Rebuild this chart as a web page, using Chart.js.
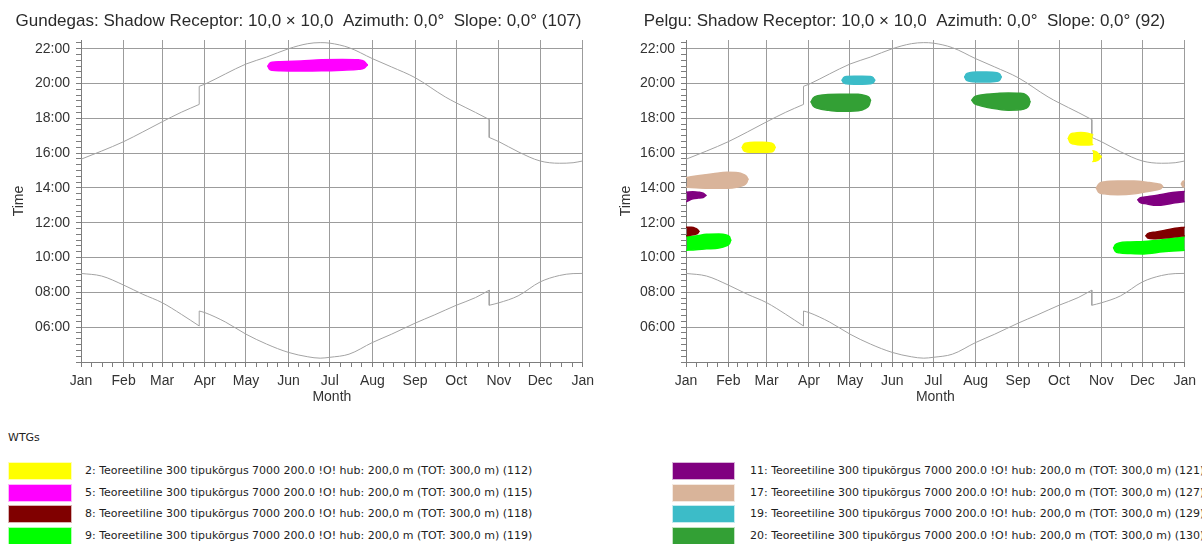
<!DOCTYPE html>
<html>
<head>
<meta charset="utf-8">
<script src="https://cdn.jsdelivr.net/npm/chart.js@4.4.0/dist/chart.umd.min.js"></script>
<style>
  html, body { margin: 0; padding: 0; background: #fff; width: 1202px; height: 544px; overflow: hidden; }
  #wrap { position: relative; width: 1202px; height: 544px; }
  canvas { position: absolute; top: 0; }
  #cL { left: 0; }
  #cR { left: 600px; }
  #legend { position: absolute; left: 0; top: 410px; width: 1202px; height: 134px;
            font-family: "DejaVu Sans", Verdana, sans-serif; font-size: 11px; color: #1e1e1e; }
  #legend .hdr { position: absolute; left: 8px; top: 21px; }
  #legend .sw { position: absolute; height: 18px; box-sizing: border-box; border: 1px solid rgba(255,255,255,0.7); }
  #legend .tx { position: absolute; white-space: pre; line-height: 18px; }
</style>
</head>
<body>
<div id="wrap">
  <canvas id="cL" width="600" height="410"></canvas>
  <canvas id="cR" width="602" height="410"></canvas>
  <div id="legend"><div class="hdr">WTGs</div></div>
</div>
<script>
// ---- axes -------------------------------------------------------------
const monthStarts = [0, 31, 59, 90, 120, 151, 181, 212, 243, 273, 304, 334, 365];
const monthLabels = ['Jan', 'Feb', 'Mar', 'Apr', 'May', 'Jun', 'Jul', 'Aug', 'Sep', 'Oct', 'Nov', 'Dec', 'Jan'];
const timeMin = 4;      // hours
const timeMax = 22.5;   // hours

// ---- sunrise / sunset (day of year, local clock hours) -----------------
const sunsetDay  = [0, 15, 31, 45, 59, 73, 86, 86, 90, 105, 120, 135, 151, 165, 174, 181, 195, 212, 226, 243, 265, 273, 287, 297, 297, 304, 318, 334, 348, 358, 365];
const sunsetTime = [15.65, 16.12, 16.66, 17.22, 17.8, 18.35, 18.8, 19.84, 19.96, 20.55, 21.12, 21.52, 22.0, 22.29, 22.35, 22.32, 22.06, 21.43, 20.95, 20.34, 19.23, 18.89, 18.34, 17.93, 16.9, 16.66, 16.08, 15.55, 15.42, 15.45, 15.55];
const sunriseDay  = [0, 15, 31, 45, 59, 73, 86, 86, 90, 105, 120, 135, 151, 165, 174, 181, 195, 212, 226, 243, 257, 273, 287, 297, 297, 304, 318, 334, 348, 358, 365];
const sunriseTime = [9.09, 8.94, 8.42, 7.89, 7.41, 6.74, 6.07, 6.93, 6.84, 6.3, 5.6, 5.03, 4.55, 4.3, 4.22, 4.27, 4.45, 5.12, 5.6, 6.23, 6.7, 7.26, 7.7, 8.13, 7.26, 7.4, 7.8, 8.6, 8.97, 9.08, 9.09];

// ---- turbines ------------------------------------------------------------
const wtgLabels = [
  '2: Teoreetiline 300 tipukõrgus 7000 200.0 !O! hub: 200,0 m (TOT: 300,0 m) (112)',
  '5: Teoreetiline 300 tipukõrgus 7000 200.0 !O! hub: 200,0 m (TOT: 300,0 m) (115)',
  '8: Teoreetiline 300 tipukõrgus 7000 200.0 !O! hub: 200,0 m (TOT: 300,0 m) (118)',
  '9: Teoreetiline 300 tipukõrgus 7000 200.0 !O! hub: 200,0 m (TOT: 300,0 m) (119)',
  '11: Teoreetiline 300 tipukõrgus 7000 200.0 !O! hub: 200,0 m (TOT: 300,0 m) (121)',
  '17: Teoreetiline 300 tipukõrgus 7000 200.0 !O! hub: 200,0 m (TOT: 300,0 m) (127)',
  '19: Teoreetiline 300 tipukõrgus 7000 200.0 !O! hub: 200,0 m (TOT: 300,0 m) (129)',
  '20: Teoreetiline 300 tipukõrgus 7000 200.0 !O! hub: 200,0 m (TOT: 300,0 m) (130)'
];
const wtgColors = ['#ffff00', '#ff00ff', '#800000', '#00ff00', '#800080', '#d9b49a', '#3cbcc8', '#33a035'];

// ---- shadow periods: outline of each period (day, upper / lower clock hour) ----
const gundegasShadow = [
  { wtg: 1, day: [136, 137, 139, 145, 160, 175, 190, 202, 206, 208.3],
    top:    [21.0, 21.14, 21.22, 21.25, 21.3, 21.36, 21.38, 21.36, 21.28, 21.07],
    bottom: [21.0, 20.84, 20.76, 20.73, 20.72, 20.73, 20.77, 20.82, 20.88, 21.07] }
];

const pelguShadow = [
  // WTG 2
  { wtg: 0, day: [41.2, 42.2, 44.5, 50, 56, 62, 64.2, 65.2],
    top:    [16.33, 16.5, 16.59, 16.62, 16.62, 16.59, 16.5, 16.33],
    bottom: [16.33, 16.15, 16.07, 16.05, 16.05, 16.07, 16.15, 16.33] },
  { wtg: 0, day: [279.8, 281, 284, 289, 294, 297.7],
    top:    [16.85, 17.05, 17.15, 17.19, 17.15, 17.05],
    bottom: [16.85, 16.62, 16.52, 16.47, 16.47, 16.5] },
  { wtg: 0, day: [297.8, 300, 302, 303.8],
    top:    [16.14, 16.08, 15.95, 15.8],
    bottom: [15.52, 15.55, 15.62, 15.8] },
  // WTG 8
  { wtg: 2, day: [0.5, 4, 7, 8.6, 9.4],
    top:    [11.74, 11.74, 11.68, 11.6, 11.5],
    bottom: [11.26, 11.3, 11.34, 11.4, 11.5] },
  { wtg: 2, day: [336.7, 338, 342, 350, 358, 365],
    top:    [11.25, 11.38, 11.45, 11.55, 11.68, 11.74],
    bottom: [11.25, 11.12, 11.08, 11.12, 11.2, 11.26] },
  // WTG 9
  { wtg: 3, day: [0.5, 7, 15, 24, 29.5, 31.8, 32.7],
    top:    [11.2, 11.24, 11.34, 11.36, 11.3, 11.2, 11.0],
    bottom: [10.42, 10.45, 10.5, 10.55, 10.68, 10.8, 11.0] },
  { wtg: 3, day: [313, 314.2, 317, 325, 335, 349, 365],
    top:    [10.56, 10.74, 10.84, 10.9, 10.93, 11.03, 11.19],
    bottom: [10.56, 10.36, 10.27, 10.23, 10.21, 10.33, 10.42] },
  // WTG 11
  { wtg: 4, day: [0.5, 5, 9, 12.5, 14.5],
    top:    [13.76, 13.78, 13.76, 13.7, 13.57],
    bottom: [13.22, 13.38, 13.42, 13.45, 13.57] },
  { wtg: 4, day: [330.8, 332, 336, 345, 352, 358, 365],
    top:    [13.32, 13.42, 13.48, 13.58, 13.68, 13.76, 13.8],
    bottom: [13.32, 13.18, 13.1, 13.0, 13.06, 13.15, 13.22] },
  // WTG 17
  { wtg: 5, day: [0.5, 10, 20, 30, 38, 42, 44.4, 45.3],
    top:    [14.6, 14.72, 14.82, 14.9, 14.88, 14.78, 14.65, 14.5],
    bottom: [14.05, 14.0, 13.99, 13.99, 14.06, 14.15, 14.3, 14.5] },
  { wtg: 5, day: [300.4, 302, 306, 316, 328, 338, 345, 347.8, 348.8],
    top:    [13.99, 14.22, 14.35, 14.4, 14.4, 14.32, 14.24, 14.18, 14.08],
    bottom: [13.99, 13.76, 13.66, 13.61, 13.66, 13.8, 13.9, 13.98, 14.08] },
  { wtg: 5, day: [362.6, 363.4, 365],
    top:    [14.23, 14.36, 14.41],
    bottom: [14.23, 14.1, 14.05] },
  // WTG 19
  { wtg: 6, day: [114.3, 115.3, 117.5, 123, 129, 134.7, 137, 138.1],
    top:    [20.19, 20.33, 20.4, 20.42, 20.42, 20.4, 20.33, 20.19],
    bottom: [20.19, 20.04, 19.98, 19.96, 19.96, 19.98, 20.04, 20.19] },
  { wtg: 6, day: [204, 205, 207.5, 213, 220, 227.5, 229.7, 230.7],
    top:    [20.38, 20.53, 20.62, 20.66, 20.66, 20.62, 20.53, 20.38],
    bottom: [20.38, 20.22, 20.13, 20.09, 20.09, 20.13, 20.22, 20.38] },
  // WTG 20
  { wtg: 7, day: [91.6, 93, 96.5, 104, 112, 126, 131.5, 134, 135],
    top:    [18.95, 19.16, 19.3, 19.37, 19.39, 19.39, 19.3, 19.2, 19.04],
    bottom: [18.95, 18.72, 18.58, 18.47, 18.41, 18.44, 18.58, 18.75, 19.04] },
  { wtg: 7, day: [209.3, 210.6, 214, 220, 228, 236, 244, 249, 251, 251.7],
    top:    [19.04, 19.2, 19.31, 19.38, 19.43, 19.46, 19.44, 19.34, 19.15, 18.95],
    bottom: [19.04, 18.88, 18.76, 18.64, 18.53, 18.47, 18.49, 18.58, 18.75, 18.95] }
];

// ---- helpers ---------------------------------------------------------------
const FONT = '"Liberation Sans", Arial, sans-serif';
const GRID = '#9c9c9c';
const AXIS = '#7d7d7d';
const TEXT = '#333333';
const SUN = '#a3a3a3';

function points(xs, ys) { return xs.map((x, i) => ({ x: x, y: ys[i] })); }

// A daylight curve is drawn as smooth pieces between the clock changes,
// joined by the vertical step at each change.
function curveDatasets(days, hours) {
  const sets = [];
  const style = { borderColor: SUN, borderWidth: 1, pointRadius: 0, fill: false };
  let piece = [];
  for (let i = 0; i < days.length; i++) {
    if (i > 0 && days[i] === days[i - 1]) {
      sets.push(Object.assign({ data: piece, cubicInterpolationMode: 'monotone' }, style));
      sets.push(Object.assign({ data: [{ x: days[i - 1], y: hours[i - 1] }, { x: days[i], y: hours[i] }], tension: 0 }, style));
      piece = [];
    }
    piece.push({ x: days[i], y: hours[i] });
  }
  sets.push(Object.assign({ data: piece, cubicInterpolationMode: 'monotone' }, style));
  return sets;
}

function buildDatasets(shadow) {
  const sets = [];
  shadow.forEach(p => {
    const c = wtgColors[p.wtg];
    const common = { borderColor: c, backgroundColor: c, borderWidth: 1.5, pointRadius: 0,
                     cubicInterpolationMode: 'monotone', borderCapStyle: 'round', borderJoinStyle: 'round' };
    sets.push(Object.assign({ data: points(p.day, p.top), fill: false }, common));
    sets.push(Object.assign({ data: points(p.day, p.bottom), fill: '-1' }, common));
  });
  return sets.concat(curveDatasets(sunsetDay, sunsetTime), curveDatasets(sunriseDay, sunriseTime));
}

function monthTicks() {
  const t = [];
  for (let i = 0; i < monthStarts.length; i++) {
    t.push({ value: monthStarts[i], major: true });
    if (i < monthStarts.length - 1) {
      const len = monthStarts[i + 1] - monthStarts[i];
      for (let k = 1; k < 4; k++) t.push({ value: monthStarts[i] + len * k / 4 });
    }
  }
  return t;
}
function timeTicks() {
  const t = [];
  for (let m = timeMin * 60; m < timeMax * 60; m += 20) t.push({ value: m / 60 });
  return t;
}
const isMonthStart = v => monthStarts.indexOf(v) >= 0;
const isEvenHour = v => { const m = Math.round(v * 60); return m % 120 === 0; };

function makeChart(canvasId, title, shadow, padLeft, yWidth, padRight, yTitlePad) {
  return new Chart(document.getElementById(canvasId), {
    type: 'line',
    data: { datasets: buildDatasets(shadow) },
    options: {
      responsive: false,
      animation: false,
      layout: { padding: { left: padLeft, right: padRight, top: 0, bottom: 0 } },
      plugins: {
        legend: { display: false },
        tooltip: { enabled: false },
        title: {
          display: true, text: title, color: '#2b2b2b',
          font: { family: FONT, size: 17, weight: 'normal', lineHeight: 1.06 },
          padding: { top: 12, bottom: 10 }
        }
      },
      scales: {
        x: {
          type: 'linear', min: 0, max: 365,
          afterBuildTicks: s => { s.ticks = monthTicks(); },
          afterFit: s => { s.height = 48; },
          ticks: {
            autoSkip: false, maxRotation: 0, padding: 6, color: TEXT,
            font: { family: FONT, size: 14 },
            callback: v => { const i = monthStarts.indexOf(v); return i >= 0 ? monthLabels[i] : ''; }
          },
          grid: {
            color: c => (c.tick && isMonthStart(c.tick.value)) ? GRID : 'rgba(0,0,0,0)',
            tickColor: AXIS, tickLength: 5, lineWidth: 1
          },
          border: { display: true, color: AXIS, width: 1 },
          title: { display: true, text: 'Month', color: TEXT, font: { family: FONT, size: 14, lineHeight: 1.2 },
                   padding: { top: 0, bottom: 4 } }
        },
        y: {
          type: 'linear', min: timeMin, max: timeMax,
          afterBuildTicks: s => { s.ticks = timeTicks(); },
          afterFit: s => { s.width = yWidth; },
          ticks: {
            autoSkip: false, padding: 6, color: TEXT,
            font: { family: FONT, size: 14 },
            callback: v => {
              const m = Math.round(v * 60);
              if (m % 120 !== 0 || m < 360) return '';
              const h = m / 60;
              return (h < 10 ? '0' : '') + h + ':00';
            }
          },
          grid: {
            color: c => (c.tick && isEvenHour(c.tick.value)) ? GRID : 'rgba(0,0,0,0)',
            tickColor: AXIS, tickLength: 5, lineWidth: 1
          },
          border: { display: true, color: AXIS, width: 1 },
          title: { display: true, text: 'Time', color: TEXT, font: { family: FONT, size: 14, lineHeight: 1 },
                   padding: { top: yTitlePad, bottom: 0 } }
        }
      }
    }
  });
}

makeChart('cL', 'Gundegas: Shadow Receptor: 10,0 × 10,0  Azimuth: 0,0°  Slope: 0,0° (107)', gundegasShadow, 13, 68, 16, -1);
makeChart('cR', 'Pelgu: Shadow Receptor: 10,0 × 10,0  Azimuth: 0,0°  Slope: 0,0° (92)', pelguShadow, 21, 65, 14, -2);

// ---- legend ----------------------------------------------------------------
const legend = document.getElementById('legend');
const swatchLeft = [8, 672], swatchWidth = [64, 63], textLeft = [85, 750];
wtgLabels.forEach((label, i) => {
  const col = i < 4 ? 0 : 1, row = i % 4;
  const top = 52 + Math.round(row * 21.6);
  const sw = document.createElement('div');
  sw.className = 'sw';
  sw.style.left = swatchLeft[col] + 'px';
  sw.style.width = swatchWidth[col] + 'px';
  sw.style.top = top + 'px';
  sw.style.background = wtgColors[i];
  legend.appendChild(sw);
  const tx = document.createElement('div');
  tx.className = 'tx';
  tx.style.left = textLeft[col] + 'px';
  tx.style.top = top + 'px';
  tx.textContent = label;
  legend.appendChild(tx);
});
</script>
</body>
</html>
